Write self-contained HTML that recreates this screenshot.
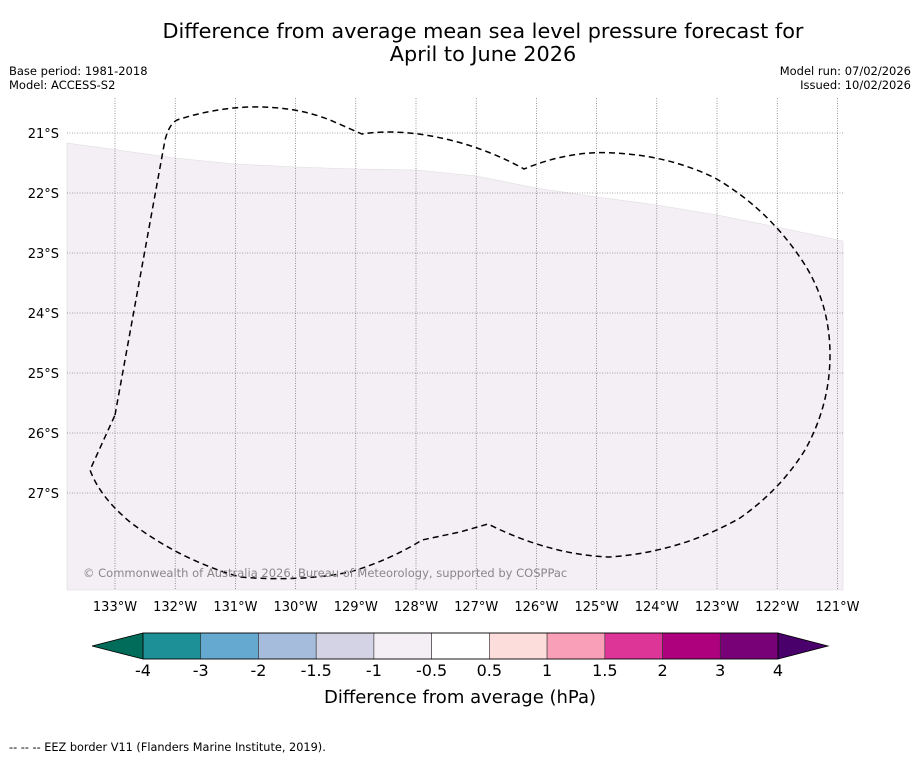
<!DOCTYPE html>
<html><head><meta charset="utf-8"><style>
body{margin:0;background:#fff;font-family:"Liberation Sans","DejaVu Sans",sans-serif}
svg text{font-family:"DejaVu Sans","Liberation Sans",sans-serif}
</style></head><body>
<svg id="c" width="919" height="758" viewBox="0 0 919 758">
<rect width="919" height="758" fill="#fff"/>
<text x="483" y="38" font-size="20.8" text-anchor="middle">Difference from average mean sea level pressure forecast for</text>
<text x="483" y="61" font-size="20.8" text-anchor="middle">April to June 2026</text>
<text x="9" y="75" font-size="11.5">Base period: 1981-2018</text>
<text x="9" y="89" font-size="11.5">Model: ACCESS-S2</text>
<text x="911" y="75" font-size="11.5" text-anchor="end">Model run: 07/02/2026</text>
<text x="911" y="89" font-size="11.5" text-anchor="end">Issued: 10/02/2026</text>
<g id="map">
<polygon fill="#f4eef5" stroke="#ddd" stroke-width="0.6" points="67,143 175,158 235,164 295,167 356,169 416,170 476,176 536,188 597,197 657,205 717,215 777,227 843,241 843,590 67,590"/>
<g id="grid"></g>
<path fill="none" stroke="#000" stroke-width="1.5" stroke-dasharray="6,4" d="M115,415 L165,140 Q170,121 180,119 Q215,108 250,107 Q295,106 330,120 L362,134 Q400,128 450,140 Q490,150 524,169 Q570,150 615,153 Q670,156 715,178 Q770,210 805,265 Q830,305 830,355 Q830,405 805,450 Q780,490 740,518 Q680,552 610,557 Q550,555 488,524 L460,532 L422,540 Q390,560 350,572 Q300,582 240,577 Q180,560 130,522 Q100,497 90,470 Z"/>
<text x="83" y="577" font-size="11.5" fill="#888">© Commonwealth of Australia 2026, Bureau of Meteorology, supported by COSPPac</text>
</g>
<g id="cbar"></g>
<text x="460" y="703" font-size="18" text-anchor="middle">Difference from average (hPa)</text>
<text x="9" y="751" font-size="11.3">--  --  -- EEZ border V11 (Flanders Marine Institute, 2019).</text>
</svg>
<script>
const lonTicks=[133,132,131,130,129,128,127,126,125,124,123,122,121];
const latTicks=[21,22,23,24,25,26,27];
const cbLevels=["-4","-3","-2","-1.5","-1","-0.5","0.5","1","1.5","2","3","4"];
const cbColors=["#1d8f97","#65a9d0","#a6bcdc","#d3d3e5","#f4eef5","#ffffff","#fddcdc","#f9a0b8","#dc3497","#ad017e","#790177"];
const lowColor="#016c59",highColor="#49006a";
const NS="http://www.w3.org/2000/svg";
const X=lon=>115+(133-lon)*60.2, Y=lat=>133+(lat-21)*60;
const L=67,R=843,T=98,B=590;
function mk(t,a,p){const e=document.createElementNS(NS,t);for(const k in a)e.setAttribute(k,a[k]);p.appendChild(e);return e;}
const g=document.getElementById('grid');
lonTicks.forEach(lon=>{const x=X(lon);
 if(x<R-2){const l=mk('line',{x1:x,x2:x,y1:T,y2:B,stroke:'#555','stroke-width':0.6,'stroke-dasharray':'1,1.5'},g);
 
 }
 const t=mk('text',{x:Math.min(x,838),y:611,'font-size':13,'text-anchor':'middle'},document.getElementById('c'));t.textContent=lon+'°W';
 
 });
latTicks.forEach(lat=>{const y=Y(lat);
 const l=mk('line',{x1:L,x2:R,y1:y,y2:y,stroke:'#555','stroke-width':0.6,'stroke-dasharray':'1,1.5'},g);
 
 
 const t=mk('text',{x:59,y:y+5,'font-size':13,'text-anchor':'end'},document.getElementById('c'));t.textContent=lat+'°S';
 
 });
const cb=document.getElementById('cbar');
const cx0=143,cx1=778,cy0=633,cy1=659,w=(cx1-cx0)/cbColors.length;
const lt=mk('polygon',{points:`${cx0},${cy0} 92,646 ${cx0},${cy1}`,fill:lowColor,stroke:'#000','stroke-width':0.8},cb);


const ht=mk('polygon',{points:`${cx1},${cy0} 828,646 ${cx1},${cy1}`,fill:highColor,stroke:'#000','stroke-width':0.8},cb);


cbColors.forEach((c,i)=>{const r=mk('rect',{x:cx0+i*w,y:cy0,width:w,height:cy1-cy0,fill:c,stroke:'#333','stroke-width':0.6},cb);
 
 });
mk('rect',{x:cx0,y:cy0,width:cx1-cx0,height:cy1-cy0,fill:'none',stroke:'#000','stroke-width':0.8},cb);
cbLevels.forEach((v,i)=>{const t=mk('text',{x:cx0+i*w,y:676,'font-size':16,'text-anchor':'middle'},cb);t.textContent=v;
 
 });
</script>
</body></html>
